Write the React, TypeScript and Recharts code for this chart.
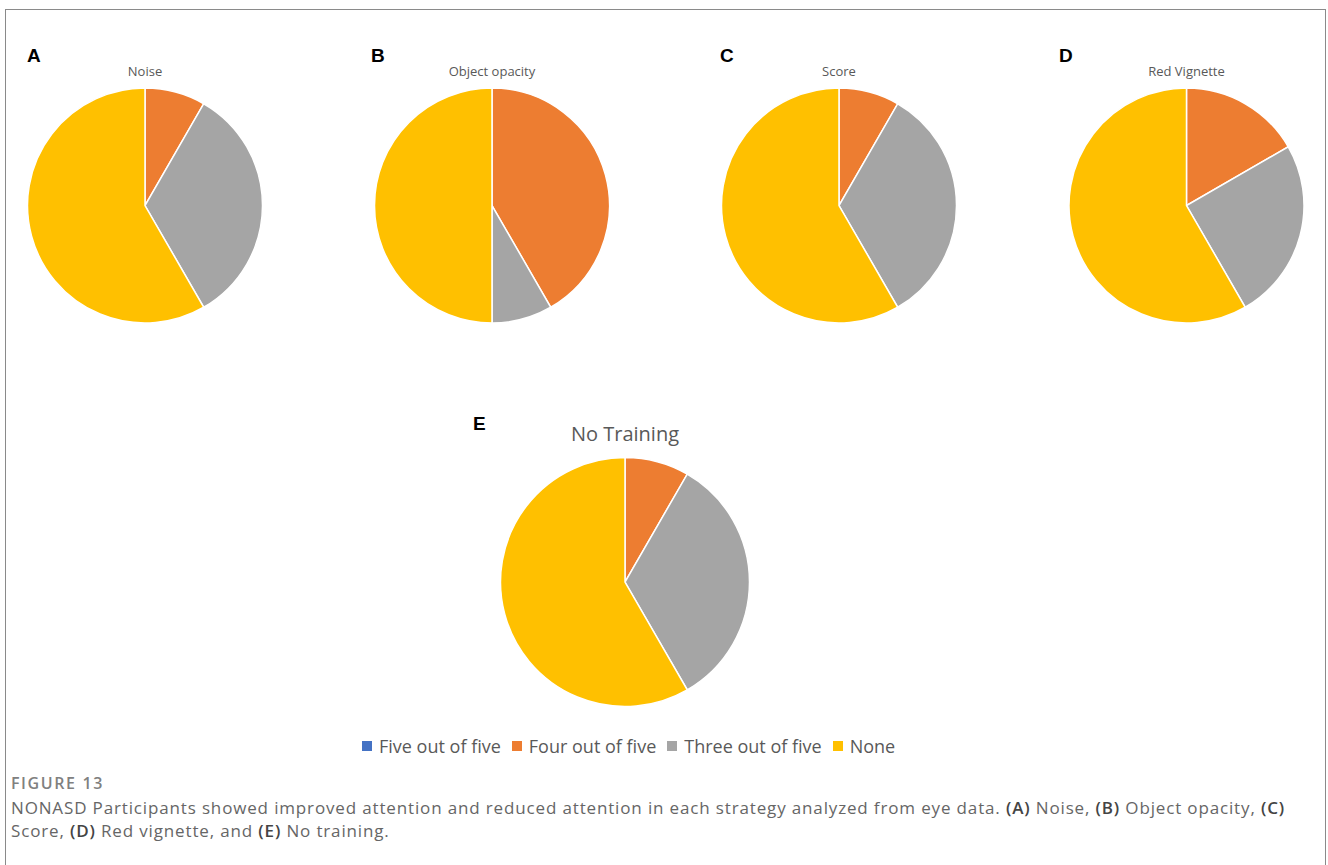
import React from 'react';
import { PieChart, Pie, Cell } from 'recharts';

// response categories (legend order)
const categories = ['Five out of five', 'Four out of five', 'Three out of five', 'None'];
const colors = ['#4472C4', '#ED7D31', '#A5A5A5', '#FFC000'];

// participant counts per strategy
const noise = [0, 1, 4, 7];
const objectOpacity = [0, 5, 1, 6];
const score = [0, 1, 4, 7];
const redVignette = [0, 2, 3, 7];
const noTraining = [0, 1, 4, 7];

const toRows = (vals: number[]) => categories.map((name, i) => ({ name, value: vals[i] }));

const panels = [
    { letter: 'A', title: 'Noise', vals: noise, cx: 145, cy: 205.5, r: 117.5, lx: 27, ly: 62, ty: 76, fs: 13 },
    { letter: 'B', title: 'Object opacity', vals: objectOpacity, cx: 492, cy: 205.5, r: 117.5, lx: 371, ly: 62, ty: 76, fs: 13 },
    { letter: 'C', title: 'Score', vals: score, cx: 839, cy: 205.5, r: 117.5, lx: 720, ly: 62, ty: 76, fs: 13 },
    { letter: 'D', title: 'Red Vignette', vals: redVignette, cx: 1186.5, cy: 205.5, r: 117.5, lx: 1059, ly: 62, ty: 76, fs: 13 },
    { letter: 'E', title: 'No Training', vals: noTraining, cx: 625, cy: 582, r: 124.5, lx: 473, ly: 430, ty: 441, fs: 20 },
];

const font = '"Open Sans", "Noto Sans", sans-serif';
const bold = { fontWeight: 600, color: '#444' };

const App: React.FC = () => {
    return (
        <div style={{ position: 'absolute', left: 0, top: 0, width: 1328, height: 865, background: '#fff', overflow: 'hidden', fontFamily: font }}>
            {/* figure frame, open at the bottom */}
            <div style={{ position: 'absolute', left: 5, top: 9, width: 1319, height: 900, border: '1px solid #8a8a8a' }} />

            <div style={{ position: 'absolute', left: 0, top: 0 }}>
                <PieChart width={1328} height={865} margin={{ top: 0, right: 0, bottom: 0, left: 0 }}>
                    {panels.map((p) => (
                        <Pie
                            key={p.letter}
                            data={toRows(p.vals)}
                            dataKey="value"
                            nameKey="name"
                            cx={p.cx}
                            cy={p.cy}
                            outerRadius={p.r}
                            startAngle={90}
                            endAngle={-270}
                            stroke="#fff"
                            strokeWidth={1.5}
                            isAnimationActive={false}
                        >
                            {categories.map((c, i) => (
                                <Cell key={c} fill={colors[i]} />
                            ))}
                        </Pie>
                    ))}
                </PieChart>
            </div>

            {/* panel letters and titles */}
            <svg width={1328} height={865} style={{ position: 'absolute', left: 0, top: 0, pointerEvents: 'none' }}>
                {panels.map((p) => (
                    <g key={p.letter}>
                        <text x={p.lx} y={p.ly} fontFamily="Liberation Sans, Arial, sans-serif" fontWeight="bold" fontSize={19} fill="#000">
                            {p.letter}
                        </text>
                        <text x={p.cx} y={p.ty} textAnchor="middle" fontFamily={font} fontSize={p.fs} fill="#595959">
                            {p.title}
                        </text>
                    </g>
                ))}
            </svg>

            {/* legend */}
            <div style={{ position: 'absolute', left: 362, top: 734, display: 'flex', alignItems: 'center', fontSize: 18, color: '#595959', whiteSpace: 'nowrap' }}>
                {categories.map((c, i) => (
                    <div key={c} style={{ display: 'flex', alignItems: 'center', marginRight: 11 }}>
                        <span style={{ display: 'inline-block', width: 10, height: 10, background: colors[i], marginRight: 7 }} />
                        <span>{c}</span>
                    </div>
                ))}
            </div>

            {/* caption */}
            <div style={{ position: 'absolute', left: 11, top: 772, fontSize: 16, fontWeight: 600, color: '#808080', letterSpacing: 1.6 }}>FIGURE 13</div>
            <div style={{ position: 'absolute', left: 11, top: 796, width: 1310, fontSize: 17, lineHeight: '23px', color: '#666', letterSpacing: 0.85, whiteSpace: 'nowrap' }}>
                NONASD Participants showed improved attention and reduced attention in each strategy analyzed from eye data. <span style={bold}>(A)</span> Noise, <span style={bold}>(B)</span> Object opacity, <span style={bold}>(C)</span>
                <br />
                Score, <span style={bold}>(D)</span> Red vignette, and <span style={bold}>(E)</span> No training.
            </div>
        </div>
    );
};

export default App;
